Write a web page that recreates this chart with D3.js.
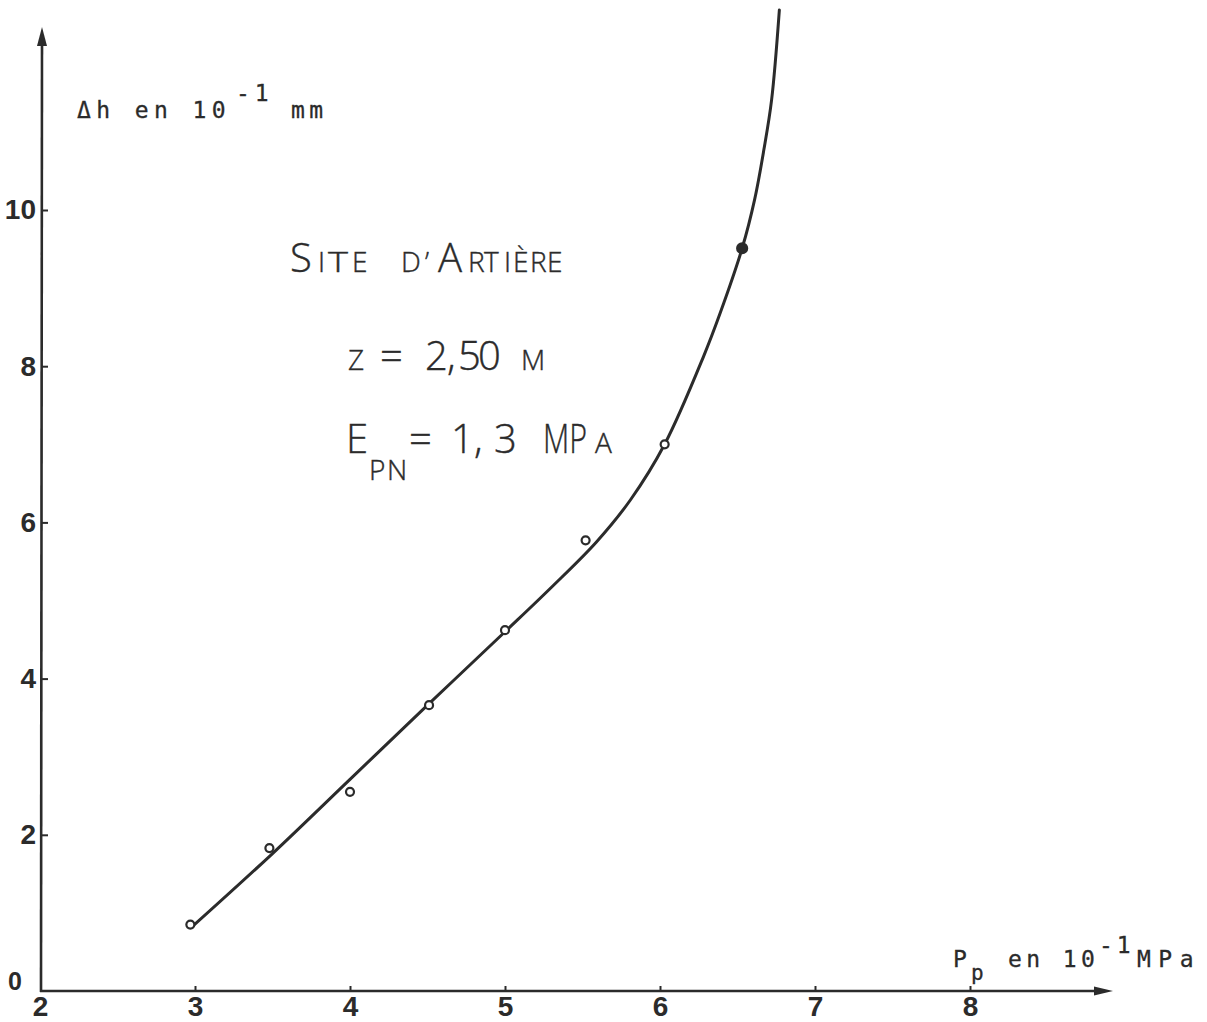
<!DOCTYPE html>
<html><head><meta charset="utf-8">
<script src="https://cdn.jsdelivr.net/npm/d3@7"></script>
<style>body{margin:0;background:#fff}</style></head>
<body><svg id="c" width="1207" height="1022"></svg>
<script>
// ---- data ----
const xTicks = [2, 3, 4, 5, 6, 7, 8];
const yTicks = [0, 2, 4, 6, 8, 10];
const pointsP = [2.97, 3.48, 4.0, 4.51, 5.0, 5.52, 6.03, 6.53];
const pointsH = [0.85, 1.83, 2.55, 3.66, 4.62, 5.77, 7.0, 9.51];
const pointsFilled = [false, false, false, false, false, false, false, true];
const curveP = [2.98, 3.5, 4.0, 4.5, 5.0, 5.3, 5.59, 5.81, 6.03, 6.28, 6.39, 6.53, 6.61, 6.67, 6.72, 6.77];
const curveH = [0.82, 1.76, 2.71, 3.66, 4.6, 5.17, 5.75, 6.29, 7.0, 8.12, 8.69, 9.51, 10.13, 10.77, 11.41, 12.56];

const ink = '#2b2b2b';
const svg = d3.select('#c');
const x = d3.scaleLinear().domain([2, 8]).range([40, 970]);
const y = d3.scaleLinear().domain([0, 10]).range([991, 210]);

// ---- axes lines with arrows ----
svg.append('path').attr('d', 'M41,992 L42,40').attr('stroke', ink).attr('stroke-width', 2.6).attr('fill', 'none');
svg.append('path').attr('d', 'M42,27 L37,46 L47,46 Z').attr('fill', ink);
svg.append('path').attr('d', 'M40,991 L1100,991').attr('stroke', ink).attr('stroke-width', 2.6).attr('fill', 'none');
svg.append('path').attr('d', 'M1113,991 L1094,986.5 L1094,995.5 Z').attr('fill', ink);

// ---- y axis ticks ----
const labelFont = '"Liberation Sans", Arial, sans-serif';
const yAxis = d3.axisLeft(y).tickValues(yTicks).tickSizeInner(-7).tickSizeOuter(0).tickPadding(5).tickFormat(d3.format('d'));
const gy = svg.append('g').attr('transform', 'translate(41,0)').call(yAxis);
gy.select('.domain').remove();
gy.selectAll('.tick line').attr('stroke', ink).attr('stroke-width', 2);
gy.selectAll('.tick text').attr('font-family', labelFont).attr('font-weight', 'bold').attr('font-size', 28).attr('fill', ink);
gy.selectAll('.tick').filter(d => d === 0).select('line').remove();
gy.selectAll('.tick').filter(d => d === 0).select('text').attr('font-size', 25).attr('x', -19).attr('dy', '-0.05em');

// ---- x axis ticks ----
const xAxis = d3.axisBottom(x).tickValues(xTicks).tickSizeInner(-5).tickSizeOuter(0).tickPadding(5).tickFormat(d3.format('d'));
const gx = svg.append('g').attr('transform', 'translate(0,991)').call(xAxis);
gx.select('.domain').remove();
gx.selectAll('.tick line').attr('stroke', ink).attr('stroke-width', 2);
gx.selectAll('.tick text').attr('font-family', labelFont).attr('font-weight', 'bold').attr('font-size', 28).attr('fill', ink);
gx.selectAll('.tick').filter(d => d === 2).select('line').remove();

// ---- curve ----
const curveData = curveP.map((p, i) => [p, curveH[i]]);
const line = d3.line().x(d => x(d[0])).y(d => y(d[1])).curve(d3.curveCatmullRom.alpha(0.5));
svg.append('path').datum(curveData).attr('d', line).attr('fill', 'none').attr('stroke', ink).attr('stroke-width', 3).attr('stroke-linecap', 'round');

// ---- points ----
const pts = pointsP.map((p, i) => ({p, h: pointsH[i], f: pointsFilled[i]}));
svg.append('g').selectAll('circle').data(pts).join('circle')
  .attr('cx', d => x(d.p)).attr('cy', d => y(d.h))
  .attr('r', d => d.f ? 5 : 4)
  .attr('fill', d => d.f ? ink : '#fff')
  .attr('stroke', ink).attr('stroke-width', 2.2);

// ---- axis titles (typewriter) ----
const mono = '"DejaVu Sans Mono", "Liberation Mono", monospace';
function tw(t, xx, yy, ls, fs) {
  svg.append('text').attr('x', xx).attr('y', yy).attr('font-family', mono).attr('font-size', fs || 23)
    .attr('letter-spacing', ls).attr('fill', ink).attr('stroke', ink).attr('stroke-width', 0.3).text(t);
}
tw('Δh en 10', 77, 118, 5.4);
tw('-1', 236, 101, 5);
tw('mm', 291, 118, 4.3);

tw('P', 953, 967, 0);
tw('p', 971, 980, 0, 21);
tw('en 10', 1008, 967, 4.4);
tw('-1', 1099, 953, 4);
tw('MPa', 1137, 967, 7.5);

// ---- annotation block (small-caps lettering, per-glyph placement) ----
const sans = '"Open Sans", "DejaVu Sans", sans-serif';
const big = 40, small = 28;
function lt(t, xs, yy, fs, len) {
  const e = svg.append('text').attr('x', xs.join(' ')).attr('y', yy).attr('font-family', sans).attr('font-weight', 300)
    .attr('font-size', fs).attr('fill', ink).attr('stroke', ink).attr('stroke-width', 0.4).text(t);
  if (len) e.attr('textLength', len).attr('lengthAdjust', 'spacingAndGlyphs');
}
// line 1 : SITE D'ARTIÈRE
lt('S', [290], 272, big);
lt('I', [318], 272, small);
lt('T', [328], 272, small, 20);
lt('E', [352], 272, small);
lt('D\u2019', [401, 425], 272, small);
lt('A', [438], 272, big);
lt('RTIÈRE', [468, 484, 504, 513, 530, 547], 272, small);
// line 2 : z = 2,50 m
lt('Z', [348], 370, small);
lt('=', [380], 370, big);
lt('2,50', [425, 447, 458, 478], 370, big);
lt('M', [521], 370, small);
// line 3 : E_PN = 1,3 MPa
lt('E', [346], 453, big);
lt('PN', [369, 387], 480, small);
lt('=', [409], 453, big);
lt('1,3', [451, 474, 494], 453, big);
lt('MP', [543], 453, big, 44);
lt('A', [595], 453, small);
</script>
</body></html>
